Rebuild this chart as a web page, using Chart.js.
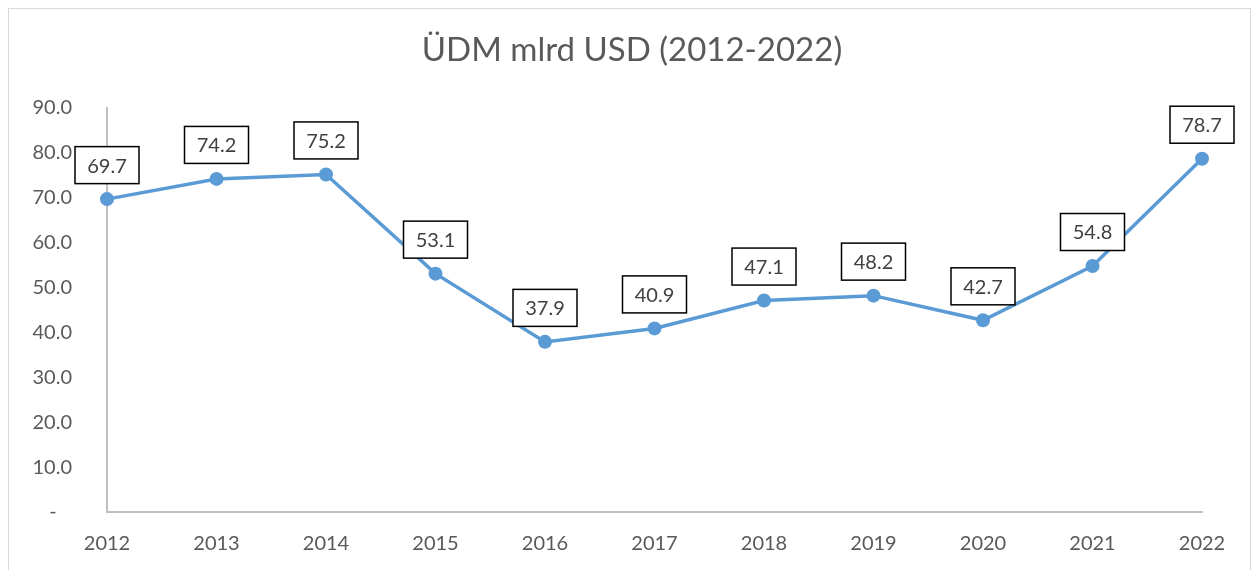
<!DOCTYPE html>
<html>
<head>
<meta charset="utf-8">
<script src="https://cdn.jsdelivr.net/npm/chart.js@4"></script>
<style>
  html, body { margin: 0; padding: 0; background: #fff; }
  #wrap { width: 1256px; height: 570px; position: relative; }
</style>
</head>
<body>
<div id="wrap"><canvas id="gdp"></canvas></div>
<script>
// years and GDP values (bln USD)
const YEARS = ["2012","2013","2014","2015","2016","2017","2018","2019","2020","2021","2022"];
const GDP = [69.7, 74.2, 75.2, 53.1, 37.9, 40.9, 47.1, 48.2, 42.7, 54.8, 78.7];
const TITLE = "ÜDM mlrd USD (2012-2022)";

const FONT = "Lato, 'Open Sans', sans-serif";
const LINE_COLOR = '#5b9bd5';

// outer frame + title centred on the whole chart area (not the plot)
const framePlugin = {
  id: 'frame',
  beforeDraw(chart) {
    const ctx = chart.ctx;
    ctx.save();
    ctx.fillStyle = '#fff';
    ctx.fillRect(0, 0, chart.width, chart.height);
    ctx.strokeStyle = '#d9d9d9';
    ctx.lineWidth = 1;
    ctx.strokeRect(8.5, 8.5, chart.width - 14, chart.height + 10);
    ctx.fillStyle = '#595959';
    ctx.font = '33px ' + FONT;
    ctx.textAlign = 'center';
    ctx.textBaseline = 'middle';
    ctx.fillText(TITLE, 632, 50);
    ctx.restore();
  }
};

// boxed value labels above each point
const boxLabels = {
  id: 'boxLabels',
  afterDatasetsDraw(chart) {
    const ctx = chart.ctx;
    const meta = chart.getDatasetMeta(0);
    ctx.save();
    ctx.font = '20px ' + FONT;
    ctx.textAlign = 'center';
    ctx.textBaseline = 'middle';
    meta.data.forEach((pt, i) => {
      const txt = GDP[i].toFixed(1);
      const w = 64, h = 37;
      const cx = pt.x, cy = pt.y - 34;
      ctx.fillStyle = '#fff';
      ctx.fillRect(cx - w / 2, cy - h / 2, w, h);
      ctx.strokeStyle = '#000';
      ctx.lineWidth = 1.5;
      ctx.strokeRect(cx - w / 2, cy - h / 2, w, h);
      ctx.fillStyle = '#404040';
      ctx.fillText(txt, cx, cy + 1);
    });
    ctx.restore();
  }
};

new Chart(document.getElementById('gdp'), {
  type: 'line',
  data: {
    labels: YEARS,
    datasets: [{
      data: GDP,
      borderColor: LINE_COLOR,
      backgroundColor: LINE_COLOR,
      borderWidth: 3.5,
      pointRadius: 7,
      pointHoverRadius: 7,
      pointBackgroundColor: LINE_COLOR,
      pointBorderWidth: 0,
      tension: 0
    }]
  },
  options: {
    responsive: true,
    maintainAspectRatio: false,
    animation: false,
    layout: { padding: { left: 0, right: 54, top: 108, bottom: 0 } },
    plugins: {
      legend: { display: false },
      tooltip: { enabled: false },
      title: { display: false }
    },
    scales: {
      x: {
        offset: false,
        grid: { display: false, drawTicks: false },
        border: { display: true, color: '#bfbfbf', width: 2 },
        ticks: { color: '#595959', font: { family: FONT, size: 20 }, padding: 20, maxRotation: 0 },
        afterFit(scale) { scale.height = 58; }
      },
      y: {
        min: 0,
        max: 90,
        grid: { display: false, drawTicks: false },
        border: { display: true, color: '#bfbfbf', width: 2 },
        ticks: {
          stepSize: 10,
          color: '#595959',
          font: { family: FONT, size: 20 },
          padding: 35,
          callback: v => v === 0 ? '-   ' : v.toFixed(1)
        },
        afterFit(scale) { scale.width = 107; }
      }
    }
  },
  plugins: [framePlugin, boxLabels]
});
</script>
</body>
</html>
